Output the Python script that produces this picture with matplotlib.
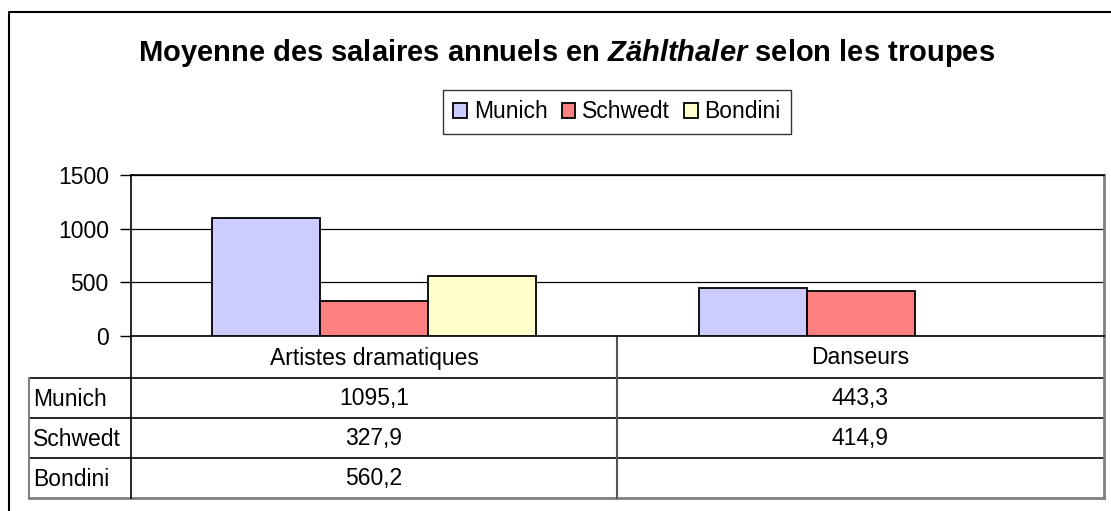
import matplotlib
matplotlib.use('Agg')
import matplotlib.pyplot as plt
from matplotlib.lines import Line2D

plt.rcParams['font.family'] = ['Liberation Sans', 'DejaVu Sans']
plt.rcParams['mathtext.fontset'] = 'custom'
plt.rcParams['mathtext.it'] = 'Liberation Sans:italic:bold'
plt.rcParams['mathtext.rm'] = 'Liberation Sans:bold'

categories = ['Artistes dramatiques', 'Danseurs']
series = ['Munich', 'Schwedt', 'Bondini']
values = {
    'Munich': [1095.1, 443.3],
    'Schwedt': [327.9, 414.9],
    'Bondini': [560.2, None],
}
colors = ['#ccccff', '#ff8080', '#ffffcc']
yticks = [0, 500, 1000, 1500]

FS = 16.5
W, H = 1111, 511
fig = plt.figure(figsize=(W / 100, H / 100), dpi=100)

# pixel-space overlay for frame, title and table
bg = fig.add_axes([0, 0, 1, 1])
bg.set_xlim(0, W)
bg.set_ylim(H, 0)
bg.axis('off')

# plot area in pixels
px0, px1, py0, py1 = 131, 1104, 175, 336
ax = fig.add_axes([px0 / W, 1 - py1 / H, (px1 - px0) / W, (py1 - py0) / H])

ncat = len(categories)
bw = 1 / (len(series) + 1.5)
for i, (s, c) in enumerate(zip(series, colors)):
    xs, hs = [], []
    for j, v in enumerate(values[s]):
        if v is not None:
            xs.append(j + (i - (len(series) - 1) / 2) * bw)
            hs.append(v)
    ax.bar(xs, hs, width=bw, color=c, edgecolor='black', linewidth=1.3,
           zorder=3, label=s)

ax.set_xlim(-0.5, ncat - 0.5)
ax.set_ylim(0, 1500)
ax.set_yticks(yticks)
ax.set_yticklabels([str(t) for t in yticks], fontsize=FS)
ax.set_xticks([])
ax.yaxis.grid(True, color='black', linewidth=0.9, zorder=0)
ax.tick_params(axis='y', length=8, width=1, pad=8)
for sp in ax.spines.values():
    sp.set_color('black')
    sp.set_linewidth(1.2)
ax.spines['right'].set_color('#808080')
ax.spines['right'].set_linewidth(2)

# outer chart frame
bg.add_line(Line2D([9, 9, W], [H, 12, 12], color='black', lw=1.5))

bg.text(567, 53, 'Moyenne des salaires annuels en $\\it{Zählthaler}$ selon les troupes',
        ha='center', va='center', fontsize=21, fontweight='bold')

leg = fig.legend(loc='center', bbox_to_anchor=(617 / W, 1 - 112 / H),
                 ncol=3, frameon=True, fancybox=False, edgecolor='black',
                 fontsize=FS, handlelength=0.6, handleheight=0.6,
                 handletextpad=0.3, columnspacing=0.6, borderpad=0.45)
leg.get_frame().set_linewidth(1)

# data table
rows = [336, 378, 418, 458, 498]
lx0 = 29
cx = [px0, 617, px1]
for y in rows[1:]:
    col = '#808080' if y == rows[-1] else 'black'
    bg.add_line(Line2D([lx0, px1], [y, y], color=col,
                       lw=2 if y == rows[-1] else 1.2))
bg.add_line(Line2D([lx0, lx0], [rows[1], rows[-1]], color='#808080', lw=1.5))
bg.add_line(Line2D([px0, px0], [rows[0], rows[-1]], color='black', lw=1.2))
bg.add_line(Line2D([cx[1], cx[1]], [rows[0], rows[-1]], color='#555555', lw=1.5))
bg.add_line(Line2D([px1, px1], [rows[0], rows[-1]], color='#808080', lw=2))

centers = [(cx[0] + cx[1]) / 2, (cx[1] + cx[2]) / 2]
for j, cat in enumerate(categories):
    bg.text(centers[j], (rows[0] + rows[1]) / 2 + 1, cat, ha='center',
            va='center', fontsize=FS)
for i, s in enumerate(series):
    yc = (rows[i + 1] + rows[i + 2]) / 2 + 1
    bg.text(lx0 + 4, yc, s, ha='left', va='center', fontsize=FS)
    for j, v in enumerate(values[s]):
        if v is not None:
            bg.text(centers[j], yc, f'{v:.1f}'.replace('.', ','),
                    ha='center', va='center', fontsize=FS)

fig.savefig('out.png', dpi=100)
